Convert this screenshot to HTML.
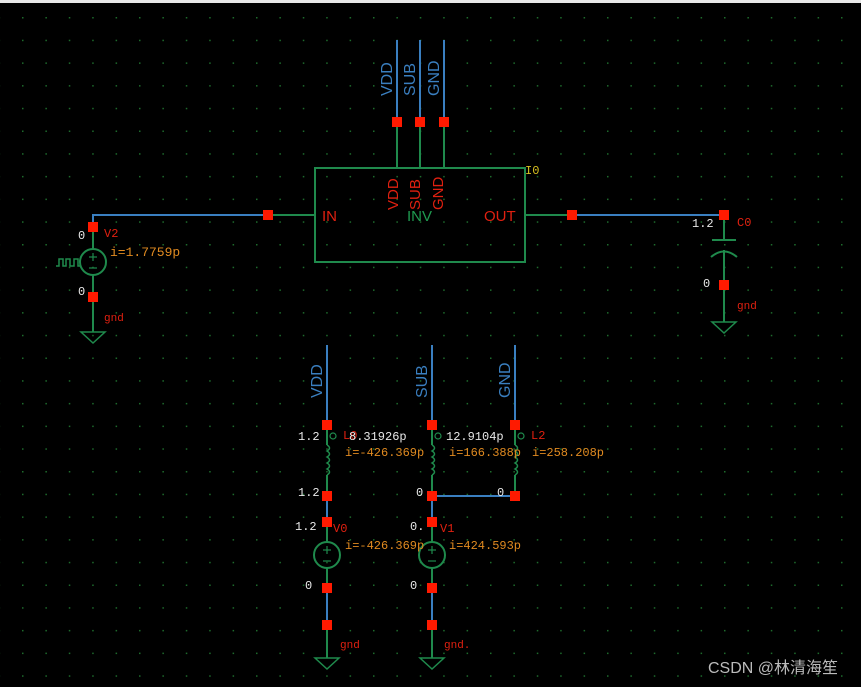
<!DOCTYPE html>
<html><head><meta charset="utf-8"><style>
html,body{margin:0;padding:0;background:#000;}
svg{display:block}
text{font-family:"Liberation Mono",monospace;font-size:12px}
.s{font-family:"Liberation Sans",sans-serif}
</style></head><body>
<svg width="861" height="687" viewBox="0 0 861 687" xmlns="http://www.w3.org/2000/svg">
<defs>
<pattern id="g" x="22" y="17" width="23.4" height="22.7" patternUnits="userSpaceOnUse">
<rect x="0" y="0" width="1.5" height="1.5" fill="#1d6b2c"/>
</pattern>
</defs>
<rect width="861" height="687" fill="#000"/>
<rect width="861" height="687" fill="url(#g)"/>
<rect x="0" y="0" width="861" height="3" fill="#e8e8e8"/>

<g fill="none" stroke-width="2">
<g stroke="#3a7fc0">
<line x1="397" y1="40" x2="397" y2="122"/><line x1="420" y1="40" x2="420" y2="122"/><line x1="444" y1="40" x2="444" y2="122"/>
<polyline points="268,215 93,215 93,227"/>
<line x1="572" y1="215" x2="724" y2="215"/>
<line x1="327" y1="345" x2="327" y2="425"/><line x1="432" y1="345" x2="432" y2="425"/><line x1="515" y1="345" x2="515" y2="425"/>
<line x1="432" y1="496" x2="515" y2="496"/>
<line x1="327" y1="496" x2="327" y2="522"/><line x1="432" y1="496" x2="432" y2="522"/>
<line x1="327" y1="588" x2="327" y2="625"/><line x1="432" y1="588" x2="432" y2="625"/>
</g>
<g stroke="#1f8a4c">
<line x1="397" y1="122" x2="397" y2="168"/><line x1="420" y1="122" x2="420" y2="168"/><line x1="444" y1="122" x2="444" y2="168"/>
<rect x="315" y="168" width="210" height="94"/>
<line x1="268" y1="215" x2="315" y2="215"/><line x1="525" y1="215" x2="572" y2="215"/>
<line x1="93" y1="227" x2="93" y2="249"/><line x1="93" y1="275" x2="93" y2="332"/>
<circle cx="93" cy="262" r="13"/>
<polyline stroke-width="1.5" points="56,266 59,266 59,259 63,259 63,266 66,266 66,259 70,259 70,266 74,266 74,259 78,259 78,266 80,266"/>
<polygon stroke-width="1.5" points="81,332 105,332 93,343"/>
<line x1="724" y1="215" x2="724" y2="240"/><line x1="712" y1="240" x2="736" y2="240"/>
<path d="M711,257 Q724,246 737,257"/>
<line x1="724" y1="250" x2="724" y2="322"/>
<polygon stroke-width="1.5" points="712,322 736,322 724,333"/>
<g>
<line x1="327" y1="425" x2="327" y2="445"/><path stroke-width="1.5" d="M327,445 q5,3 0,6 q5,3 0,6 q5,3 0,6 q5,3 0,6 q5,3 0,6"/><line x1="327" y1="475" x2="327" y2="496"/>
<line x1="432" y1="425" x2="432" y2="445"/><path stroke-width="1.5" d="M432,445 q5,3 0,6 q5,3 0,6 q5,3 0,6 q5,3 0,6 q5,3 0,6"/><line x1="432" y1="475" x2="432" y2="496"/>
<line x1="515" y1="425" x2="515" y2="445"/><path stroke-width="1.5" d="M515,445 q5,3 0,6 q5,3 0,6 q5,3 0,6 q5,3 0,6 q5,3 0,6"/><line x1="515" y1="475" x2="515" y2="496"/>
<circle cx="333" cy="436" r="3" stroke-width="1.2"/><circle cx="438" cy="436" r="3" stroke-width="1.2"/><circle cx="521" cy="436" r="3" stroke-width="1.2"/>
</g>
<line x1="327" y1="522" x2="327" y2="542"/><line x1="327" y1="568" x2="327" y2="588"/><circle cx="327" cy="555" r="13"/>
<line x1="432" y1="522" x2="432" y2="542"/><line x1="432" y1="568" x2="432" y2="588"/><circle cx="432" cy="555" r="13"/>
<line x1="327" y1="625" x2="327" y2="658"/><line x1="432" y1="625" x2="432" y2="658"/>
<polygon stroke-width="1.5" points="315,658 339,658 327,669"/>
<polygon stroke-width="1.5" points="420,658 444,658 432,669"/>
</g>
<g stroke="#1f8a4c" stroke-width="1.2">
<line x1="89" y1="257" x2="97" y2="257"/><line x1="93" y1="253" x2="93" y2="261"/><line x1="89" y1="268" x2="97" y2="268"/>
<line x1="323" y1="550" x2="331" y2="550"/><line x1="327" y1="546" x2="327" y2="554"/><line x1="323" y1="561" x2="331" y2="561"/>
<line x1="428" y1="550" x2="436" y2="550"/><line x1="432" y1="546" x2="432" y2="554"/><line x1="428" y1="561" x2="436" y2="561"/>
</g>
</g>
<g fill="#ff1a00">
<rect x="392" y="117" width="10" height="10"/><rect x="415" y="117" width="10" height="10"/><rect x="439" y="117" width="10" height="10"/>
<rect x="263" y="210" width="10" height="10"/><rect x="567" y="210" width="10" height="10"/>
<rect x="88" y="222" width="10" height="10"/><rect x="88" y="292" width="10" height="10"/>
<rect x="719" y="210" width="10" height="10"/><rect x="719" y="280" width="10" height="10"/>
<rect x="322" y="420" width="10" height="10"/><rect x="427" y="420" width="10" height="10"/><rect x="510" y="420" width="10" height="10"/>
<rect x="322" y="491" width="10" height="10"/><rect x="427" y="491" width="10" height="10"/><rect x="510" y="491" width="10" height="10"/>
<rect x="322" y="517" width="10" height="10"/><rect x="427" y="517" width="10" height="10"/>
<rect x="322" y="583" width="10" height="10"/><rect x="427" y="583" width="10" height="10"/>
<rect x="322" y="620" width="10" height="10"/><rect x="427" y="620" width="10" height="10"/>
</g>
<g fill="#3a7fc0" class="s">
<text class="s" transform="translate(392,96) rotate(-90)" style="font-size:16px">VDD</text>
<text class="s" transform="translate(415,96) rotate(-90)" style="font-size:16px">SUB</text>
<text class="s" transform="translate(439,96) rotate(-90)" style="font-size:16px">GND</text>
<text class="s" transform="translate(322,398) rotate(-90)" style="font-size:16px">VDD</text>
<text class="s" transform="translate(427,398) rotate(-90)" style="font-size:16px">SUB</text>
<text class="s" transform="translate(510,398) rotate(-90)" style="font-size:16px">GND</text>
</g>
<g fill="#e02010">
<text class="s" transform="translate(398,210) rotate(-90)" style="font-size:15px">VDD</text>
<text class="s" transform="translate(420,210) rotate(-90)" style="font-size:15px">SUB</text>
<text class="s" transform="translate(443,210) rotate(-90)" style="font-size:15px">GND</text>
<text class="s" x="322" y="221" style="font-size:15px">IN</text>
<text class="s" x="484" y="221" style="font-size:15px">OUT</text>
<text x="104" y="237">V2</text>
<text x="104" y="321" style="font-size:11px">gnd</text>
<text x="737" y="226">C0</text>
<text x="737" y="309" style="font-size:11px">gnd</text>
<text x="343" y="439">L0</text><text x="531" y="439">L2</text>
<text x="333" y="532">V0</text><text x="440" y="532">V1</text>
<text x="340" y="648" style="font-size:11px">gnd</text><text x="444" y="648" style="font-size:11px">gnd.</text>
</g>
<text class="s" x="407" y="221" fill="#1f9a50" style="font-size:15px">INV</text>
<text x="525" y="174" fill="#d8c020">I0</text>
<g fill="#e08a20">
<text x="110" y="256" style="font-size:13px">i=1.7759p</text>
<text x="345" y="456">i=-426.369p</text>
<text x="449" y="456">i=166.388p</text>
<text x="532" y="456">i=258.208p</text>
<text x="345" y="549">i=-426.369p</text>
<text x="449" y="549">i=424.593p</text>
</g>
<g fill="#e8e8e8">
<text x="78" y="239">0</text><text x="78" y="295">0</text>
<text x="692" y="227">1.2</text><text x="703" y="287">0</text>
<text x="298" y="440">1.2</text><text x="349" y="440">8.31926p</text><text x="446" y="440">12.9104p</text>
<text x="298" y="496">1.2</text><text x="416" y="496">0</text><text x="497" y="496">0</text>
<text x="295" y="530">1.2</text><text x="410" y="530">0.</text>
<text x="305" y="589">0</text><text x="410" y="589">0</text>
</g>
<text x="708" y="673" fill="#bbbbbb" style="font-size:16px;font-family:'Liberation Sans','Noto Sans CJK SC',sans-serif">CSDN @林清海笙</text>
</svg>
</body></html>
